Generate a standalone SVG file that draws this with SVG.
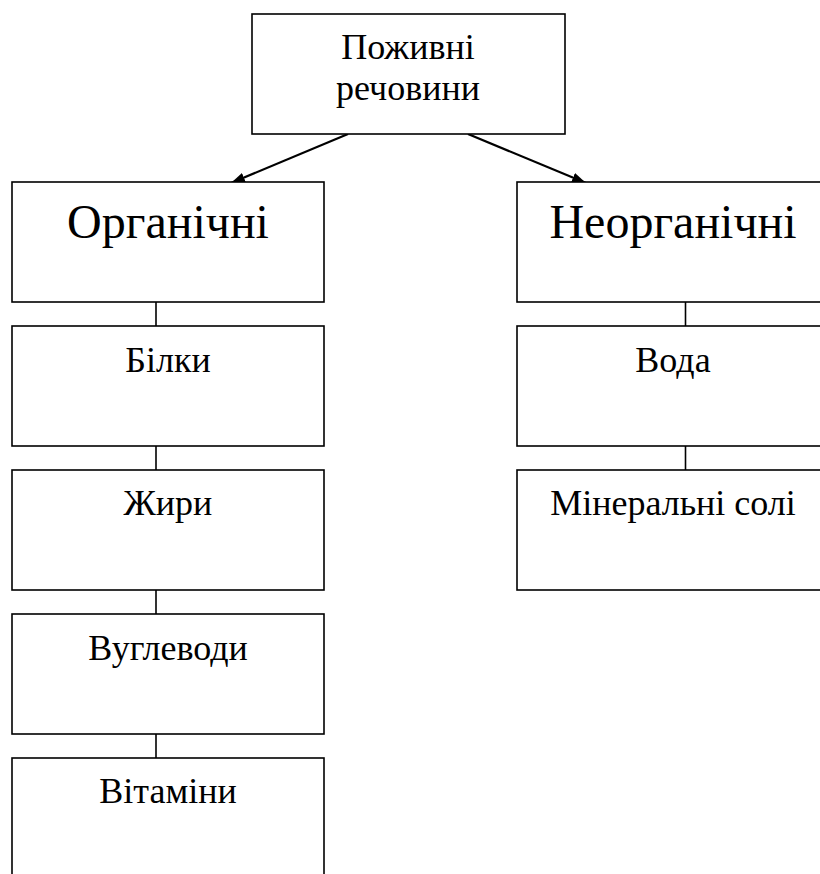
<svg xmlns="http://www.w3.org/2000/svg" width="820" height="874" viewBox="0 0 820 874">
<style>
.box{fill:#fff;stroke:#000;stroke-width:1.6}
.t{font-family:"Liberation Serif","Times New Roman",serif;font-size:36px;fill:#000;text-anchor:middle}
.big{font-size:48px}
.c{stroke:#000;stroke-width:1.6;fill:none}
.a{stroke:#000;stroke-width:2.2;fill:none}
</style>
<defs>
<marker id="ah" viewBox="0 0 14 10" refX="14" refY="5" markerWidth="14" markerHeight="10" markerUnits="userSpaceOnUse" orient="auto">
<path d="M0,0 L14,5 L0,10 Z" fill="#000"/>
</marker>
</defs>
<rect width="820" height="874" fill="#fff"/>
<g id="connectors">
<line class="a" x1="348" y1="134" x2="231" y2="183" marker-end="url(#ah)"/>
<line class="a" x1="468" y1="134" x2="586" y2="183" marker-end="url(#ah)"/>
<line class="c" x1="156" y1="302" x2="156" y2="326"/>
<line class="c" x1="156" y1="446" x2="156" y2="470"/>
<line class="c" x1="156" y1="590" x2="156" y2="614"/>
<line class="c" x1="156" y1="734" x2="156" y2="758"/>
<line class="c" x1="685.5" y1="302" x2="685.5" y2="326"/>
<line class="c" x1="685.5" y1="446" x2="685.5" y2="470"/>
</g>
<g id="root">
<rect class="box" x="252" y="14" width="313" height="120"/>
<text class="t" x="408" y="59">Поживні</text>
<text class="t" x="408" y="100">речовини</text>
</g>
<g id="organic">
<rect class="box" x="12" y="182" width="312" height="120"/>
<text class="t big" x="168" y="238">Органічні</text>
</g>
<g id="proteins">
<rect class="box" x="12" y="326" width="312" height="120"/>
<text class="t" x="168" y="372">Білки</text>
</g>
<g id="fats">
<rect class="box" x="12" y="470" width="312" height="120"/>
<text class="t" x="168" y="515">Жири</text>
</g>
<g id="carbs">
<rect class="box" x="12" y="614" width="312" height="120"/>
<text class="t" x="168" y="660">Вуглеводи</text>
</g>
<g id="vitamins">
<rect class="box" x="12" y="758" width="312" height="140"/>
<text class="t" x="168" y="803">Вітаміни</text>
</g>
<g id="inorganic">
<rect class="box" x="517" y="182" width="312" height="120"/>
<text class="t big" x="673" y="238">Неорганічні</text>
</g>
<g id="water">
<rect class="box" x="517" y="326" width="312" height="120"/>
<text class="t" x="673" y="372">Вода</text>
</g>
<g id="minerals">
<rect class="box" x="517" y="470" width="312" height="120"/>
<text class="t" x="673" y="515">Мінеральні солі</text>
</g>
</svg>
